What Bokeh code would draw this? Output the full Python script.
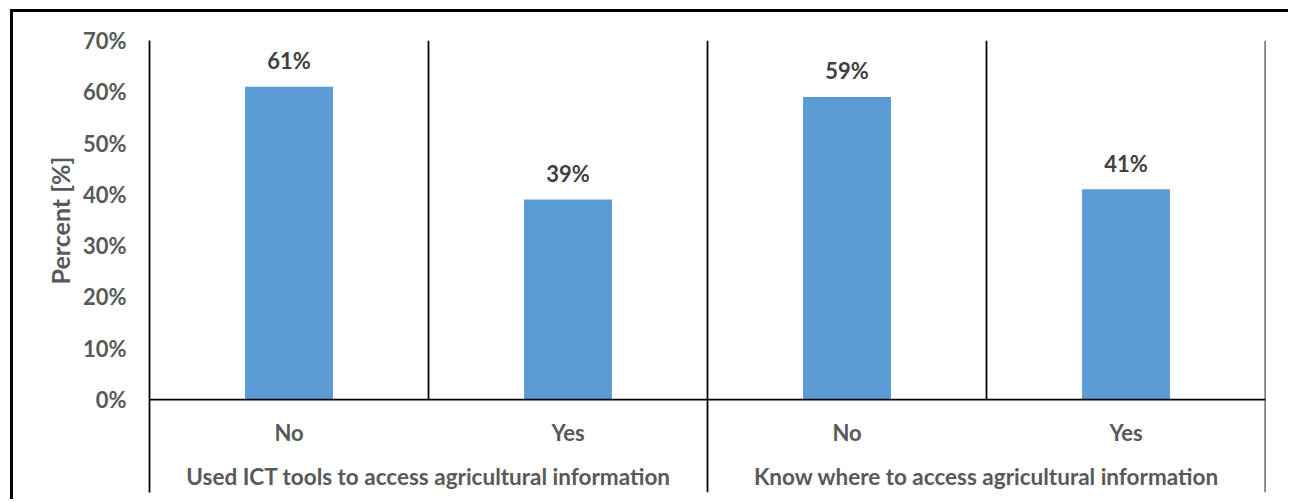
import numpy as np
from bokeh.plotting import figure
from bokeh.models import (FactorRange, Range1d, FixedTicker, NumeralTickFormatter,
                          ColumnDataSource, Span, Title)
from bokeh.core.properties import value
from bokeh.embed import file_html
from bokeh.resources import INLINE

groups = ["Used ICT tools to access agricultural information",
          "Know where to access agricultural information"]
answers = ["No", "Yes"]
percents = [0.61, 0.39, 0.59, 0.41]
bar_labels = ["61%", "39%", "59%", "41%"]
y_ticks = [0.0, 0.1, 0.2, 0.3, 0.4, 0.5, 0.6, 0.7]
y_title = "Percent [%]"

factors = [(g, a) for g in groups for a in answers]

FONT = "Lato"
GRAY = "#595959"
DARK = "#404040"
LINE = "#000000"
LW = 1.75

# canvas sits inside a CSS border (outer chart frame); canvas origin at (13, 12)
OX, OY = 13, 12
y_min = -0.1813

p = figure(width=1291 - OX, height=502 - OY, output_backend="svg", toolbar_location=None,
           x_range=FactorRange(*factors, factor_padding=0, group_padding=0, range_padding=0),
           y_range=Range1d(y_min, y_ticks[-1]),
           min_border_left=149 - OX, min_border_right=26, min_border_top=40 - OY,
           min_border_bottom=10)
p.margin = (9, 0, 0, 10)
p.styles = {"border-top": "3px solid black", "border-left": "3px solid black"}
p.outline_line_color = None
p.xgrid.visible = False
p.ygrid.visible = False
p.xaxis.visible = False

ya = p.yaxis[0]
ya.ticker = FixedTicker(ticks=y_ticks)
ya.formatter = NumeralTickFormatter(format="0%")
ya.axis_line_color = LINE
ya.axis_line_width = LW
ya.major_tick_line_color = None
ya.minor_tick_line_color = None
ya.major_tick_out = 0
ya.major_tick_in = 0
ya.major_label_standoff = 23
ya.major_label_text_font = FONT
ya.major_label_text_font_style = "bold"
ya.major_label_text_font_size = "22px"
ya.major_label_text_color = GRAY

src = ColumnDataSource(dict(x=factors, top=percents, label=bar_labels))
p.vbar(x="x", top="top", width=0.315, source=src, fill_color="#5B9BD5", line_color=None)
p.text(x="x", y="top", text="label", source=src, text_align="center",
       text_baseline="middle", y_offset=-26, text_font=value(FONT),
       text_font_style="bold", text_font_size="22px", text_color=DARK)

# baseline at 0
p.add_layout(Span(location=0, dimension="width", line_color=LINE, line_width=LW))

# separators between categories (synthetic coordinates of the factor range)
n = len(factors)
inner = [i for i in range(1, n + 1) if i % len(answers) != 0]
outer = [i for i in range(1, n + 1) if i % len(answers) == 0]
p.segment(x0=inner, x1=inner, y0=[0] * len(inner), y1=[y_ticks[-1]] * len(inner),
          line_color=LINE, line_width=LW)
p.segment(x0=outer, x1=outer, y0=[y_min] * len(outer), y1=[y_ticks[-1]] * len(outer),
          line_color=LINE, line_width=LW)

# category labels
p.text(x=factors, y=[0] * n, text=[a for g, a in factors], text_align="center",
       text_baseline="middle", y_offset=33, text_font=value(FONT),
       text_font_style="bold", text_font_size="22px", text_color=GRAY)
p.text(x=groups, y=[0] * len(groups), text=groups, text_align="center",
       text_baseline="middle", y_offset=77, text_font=value(FONT),
       text_font_style="bold", text_font_size="22.5px", text_color=GRAY)

# y axis title
t = Title(text=y_title, align="left", offset=208, vertical_align="middle", standoff=8,
          text_font=FONT, text_font_style="bold", text_font_size="25px", text_color=GRAY)
p.add_layout(t, "left")

open("out.html", "w").write(file_html(p, INLINE))
